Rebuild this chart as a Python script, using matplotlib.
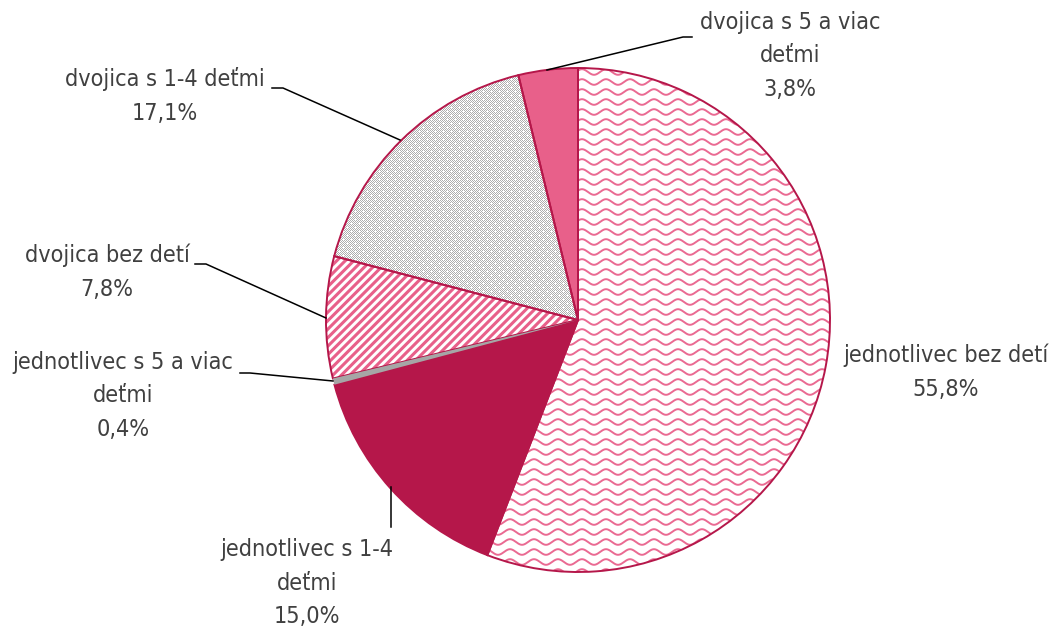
import re
import numpy as np
import matplotlib
matplotlib.use("Agg")
import matplotlib.pyplot as plt
from matplotlib import font_manager
from matplotlib.font_manager import FontProperties

# ---- data ----
categories = ["jednotlivec bez detí", "jednotlivec s 1-4 deťmi", "jednotlivec s 5 a viac deťmi",
              "dvojica bez detí", "dvojica s 1-4 deťmi", "dvojica s 5 a viac deťmi"]
values = [55.8, 15.0, 0.4, 7.8, 17.1, 3.8]
label_texts = ["jednotlivec bez detí\n55,8%", "jednotlivec s 1-4\ndeťmi\n15,0%",
               "jednotlivec s 5 a viac\ndeťmi\n0,4%", "dvojica bez detí\n7,8%",
               "dvojica s 1-4 deťmi\n17,1%", "dvojica s 5 a viac\ndeťmi\n3,8%"]

# ---- font choice: prefer a narrow sans like the original ----
def pick_font():
    prefs = ["Liberation Sans Narrow", "Arial Narrow", "DejaVu Sans Condensed",
             "Noto Sans Condensed", "Roboto Condensed", "Open Sans Condensed"]
    cands = []
    for f in font_manager.fontManager.ttflist:
        base = f.fname.split('/')[-1]
        txt = f.name + " " + base
        if re.search(r'Narrow|Condensed', txt) and not re.search(r'Semi|Extra|Ultra|Bold|Italic|Oblique|Light|Thin|Black|Medium', base):
            cands.append((f.name, base, f.fname))
    for p in prefs:
        for n, b, path in cands:
            key = n + " " + b.replace('-', ' ')
            if p.split()[0] in key and ('Narrow' in p and 'Narrow' in key or 'Condensed' in p and 'Condensed' in key):
                return path
    if cands:
        return cands[0][2]
    return None

fpath = pick_font()
if fpath:
    FP = FontProperties(fname=fpath)
else:
    FP = FontProperties(family=['Liberation Sans', 'DejaVu Sans'])

EDGE = "#B5174A"
CRIMSON = "#B5174A"
PINK = "#E8608A"
GRAY = "#A6A6A6"
TEXT = "#404040"

W, H = 1052, 630
fig = plt.figure(figsize=(W / 100, H / 100), dpi=100)
ax = fig.add_axes([0, 0, 1, 1])

def py(y):  # image y (top-down) to data y
    return H - y

def fix_axes():
    ax.set_xlim(0, W)
    ax.set_ylim(0, H)
    ax.set_aspect('equal')
    ax.axis('off')

cx, cy, R = 578, py(320), 252
faces = ["white", CRIMSON, GRAY, "white", "white", PINK]
wedges, _ = ax.pie(values, startangle=90, counterclock=False, center=(cx, cy), radius=R,
                   colors=faces, wedgeprops=dict(linewidth=0), frame=True)
fix_axes()

# wavy pattern (slice 0)
xs = np.arange(cx - R - 10, cx + R + 10, 0.5)
for y0 in np.arange(cy - R - 10, cy + R + 10, 10):
    ln, = ax.plot(xs, y0 + 2.8 * np.sin(2 * np.pi * xs / 24), color="#EA6A92", lw=1.4, zorder=1.5)
    ln.set_clip_path(wedges[0])

# diagonal stripes (slice 3)
for c in np.arange(-(cx + R) + (cy - R) - 20, (cy + R) - (cx - R) + 20, 8.5):
    xx = np.array([cx - R - 10, cx + R + 10])
    ln, = ax.plot(xx, xx + c, color=PINK, lw=2.2, zorder=1.5, solid_capstyle='butt')
    ln.set_clip_path(wedges[3])

# checker with dots (slice 4)
ii, jj = np.mgrid[0:H, 0:W]
tex = np.where((ii + jj) % 2 == 0, 0.68, 1.0)
dots = ((ii % 8 == 3) & (jj % 8 == 3)) | ((ii % 8 == 7) & (jj % 8 == 7))
tex[dots] = 1.0
for di, dj in [(-1, 0), (1, 0), (0, -1), (0, 1)]:
    tex[np.roll(np.roll(dots, di, 0), dj, 1)] = 1.0
im = ax.imshow(tex, cmap='gray', vmin=0, vmax=1, extent=[0, W, 0, H], origin='upper',
               interpolation='nearest', zorder=1.4)
im.set_clip_path(wedges[4])

# edges on top
ew, _ = ax.pie(values, startangle=90, counterclock=False, center=(cx, cy), radius=R,
               wedgeprops=dict(facecolor='none', edgecolor=EDGE, linewidth=1.4, zorder=2), frame=True)
ew[2].set_linewidth(0)
wedges[2].set_zorder(2.5)  # keep the tiny gray slice visible above neighbouring edges
fix_axes()

# labels (image coords); fit font size to the reference text width
fig.canvas.draw()
renderer = fig.canvas.get_renderer()
probe = ax.text(0, 0, "jednotlivec bez detí", fontproperties=FP, fontsize=16)
wpx = probe.get_window_extent(renderer).width
probe.remove()
fsize = min(18.0, 16.0 * 206.0 / wpx)

label_pos = [(946, 372), (307, 583), (123, 396), (107, 272), (165, 96), (790, 56)]
for (x, y), t in zip(label_pos, label_texts):
    ax.text(x, py(y), t, ha='center', va='center', fontproperties=FP, fontsize=fsize,
            color=TEXT, linespacing=27.0 / fsize, zorder=3)

# leader lines (image coords)
leaders = [
    [(692, 37), (683, 37), (547, 70)],
    [(272, 88), (283, 88), (400, 140)],
    [(195, 264), (206, 264), (326, 318)],
    [(240, 373), (250, 373), (333, 381)],
    [(391, 527), (391, 487)],
]
for pts in leaders:
    xx = [p[0] for p in pts]
    yy = [py(p[1]) for p in pts]
    ax.plot(xx, yy, color='black', lw=1.1, zorder=3)

fig.savefig("out.png", dpi=100)
